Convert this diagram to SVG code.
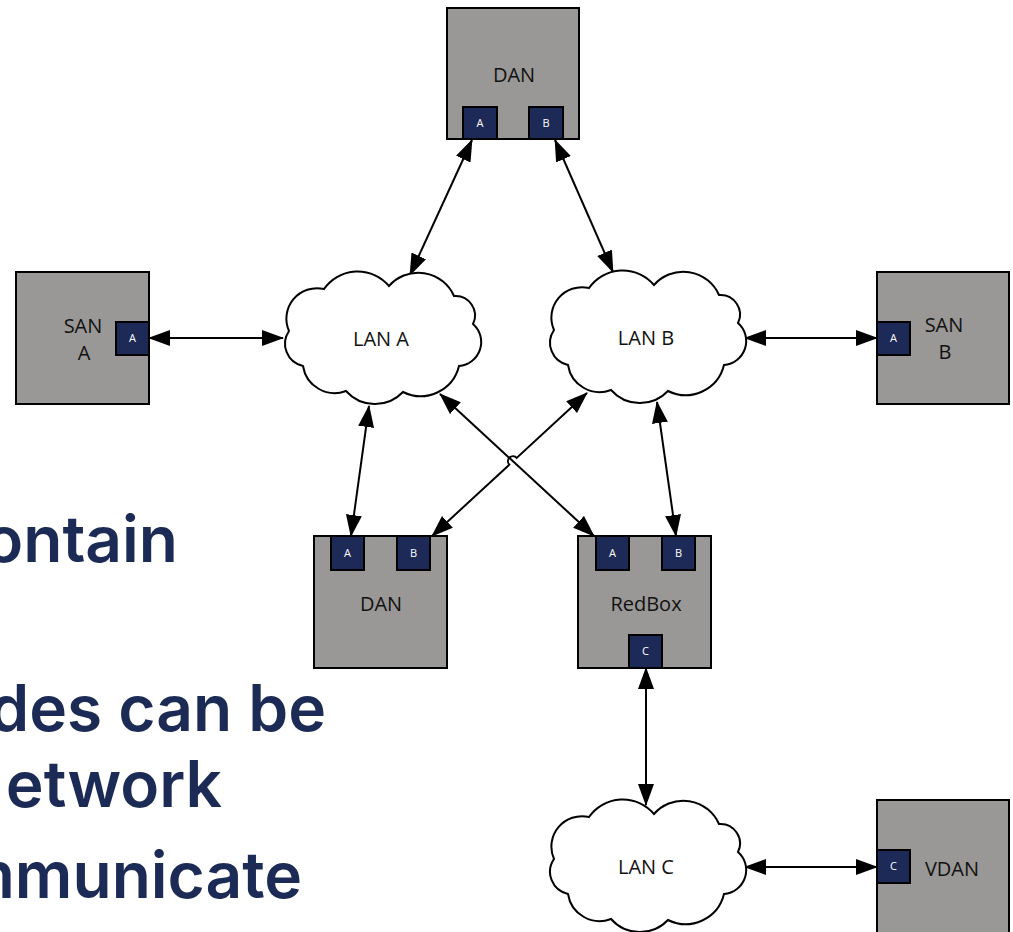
<svg xmlns="http://www.w3.org/2000/svg" xmlns:xlink="http://www.w3.org/1999/xlink" width="1013" height="932" viewBox="0 0 1013 932">
<style>
.box{fill:#9a9896;stroke:#000;stroke-width:2}
.port{fill:#1d2a57;stroke:#000;stroke-width:2}
.pt{fill:#fff;font-family:"Open Sans","Liberation Sans",sans-serif;font-size:11px;text-anchor:middle}
.lbl{fill:#111;font-family:"Open Sans","Liberation Sans",sans-serif;font-size:20px;text-anchor:middle}
.cloud{fill:#fff;stroke:#000;stroke-width:2}
.con{fill:none;stroke:#000;stroke-width:2;marker-start:url(#ah);marker-end:url(#ah)}
.big{fill:#1c2b55;font-family:Inter,"Liberation Sans",sans-serif;font-weight:600;font-size:64px;text-anchor:end}
</style>
<defs>
<marker id="ah" markerUnits="userSpaceOnUse" markerWidth="24" markerHeight="18" refX="21" refY="8" orient="auto-start-reverse">
<path d="M0,0 L22,8 L0,16 Z" fill="#000"/>
</marker>
<path id="cloudShape" d="M-57,-50 A41,41 0 0 1 8,-53 A39,39 0 0 1 73,-43 A19.5,19.5 0 0 1 92,-15 A24,24 0 0 1 78,27 A39.5,39.5 0 0 1 22,53 A38.7,38.7 0 0 1 -35,52 A32,32 0 0 1 -78,27 A22.7,22.7 0 0 1 -92,-8 A30.5,30.5 0 0 1 -57,-50 Z"/>
</defs>
<rect width="1013" height="932" fill="#fff"/>

<g id="text-left">
<text class="big" x="178" y="562">ontain</text>
<text class="big" x="326" y="731">des can be</text>
<text class="big" x="222" y="807">etwork</text>
<text class="big" x="302" y="898">mmunicate</text>
</g>

<g id="connectors">
<path class="con" d="M472,140 L410,275"/>
<path class="con" d="M555,140 L613,272"/>
<path class="con" d="M149,338 L283,338"/>
<path class="con" d="M745,338 L877,338"/>
<path class="con" d="M369,406 L351,536"/>
<path class="con" d="M657,402 L676,536"/>
<path class="con" d="M440,394 L594,536"/>
<path class="con" d="M432,536 L509.3,464.7 A5,5 0 0 1 516.7,457.9 L587,393"/>
<path class="con" d="M646,668 L646,805"/>
<path class="con" d="M745,867 L877,867"/>
</g>

<g id="dan-top">
<rect class="box" x="447" y="8" width="132" height="131"/>
<text class="lbl" x="514" y="82">DAN</text>
<rect class="port" x="463" y="107" width="34" height="32"/>
<text class="pt" x="480" y="127">A</text>
<rect class="port" x="529" y="107" width="34" height="32"/>
<text class="pt" x="546" y="127">B</text>
</g>

<g id="san-a">
<rect class="box" x="16" y="272" width="133" height="132"/>
<text class="lbl" x="83" y="333">SAN</text>
<text class="lbl" x="84" y="360">A</text>
<rect class="port" x="116" y="322" width="33" height="33"/>
<text class="pt" x="132.5" y="342">A</text>
</g>

<g id="san-b">
<rect class="box" x="877" y="272" width="132" height="132"/>
<text class="lbl" x="944" y="332">SAN</text>
<text class="lbl" x="945" y="359">B</text>
<rect class="port" x="877" y="322" width="33" height="33"/>
<text class="pt" x="893.5" y="342">A</text>
</g>

<g id="lan-a">
<use xlink:href="#cloudShape" class="cloud" transform="translate(381,339)"/>
<text class="lbl" x="381" y="346">LAN A</text>
</g>

<g id="lan-b">
<use xlink:href="#cloudShape" class="cloud" transform="translate(646,338)"/>
<text class="lbl" x="646" y="345">LAN B</text>
</g>

<g id="dan-bottom">
<rect class="box" x="314" y="536" width="133" height="132"/>
<text class="lbl" x="381" y="611">DAN</text>
<rect class="port" x="331" y="536" width="33" height="34"/>
<text class="pt" x="347.5" y="557">A</text>
<rect class="port" x="397" y="536" width="33" height="34"/>
<text class="pt" x="413.5" y="557">B</text>
</g>

<g id="redbox">
<rect class="box" x="578" y="536" width="133" height="132"/>
<text class="lbl" x="646" y="611">RedBox</text>
<rect class="port" x="596" y="536" width="33" height="34"/>
<text class="pt" x="612.5" y="557">A</text>
<rect class="port" x="662" y="536" width="33" height="34"/>
<text class="pt" x="678.5" y="557">B</text>
<rect class="port" x="629" y="635" width="33" height="33"/>
<text class="pt" x="645.5" y="655">C</text>
</g>

<g id="lan-c">
<use xlink:href="#cloudShape" class="cloud" transform="translate(646,867)"/>
<text class="lbl" x="646" y="874">LAN C</text>
</g>

<g id="vdan">
<rect class="box" x="877" y="800" width="132" height="140"/>
<text class="lbl" x="952" y="876">VDAN</text>
<rect class="port" x="877" y="850" width="33" height="33"/>
<text class="pt" x="893.5" y="870">C</text>
</g>
</svg>
